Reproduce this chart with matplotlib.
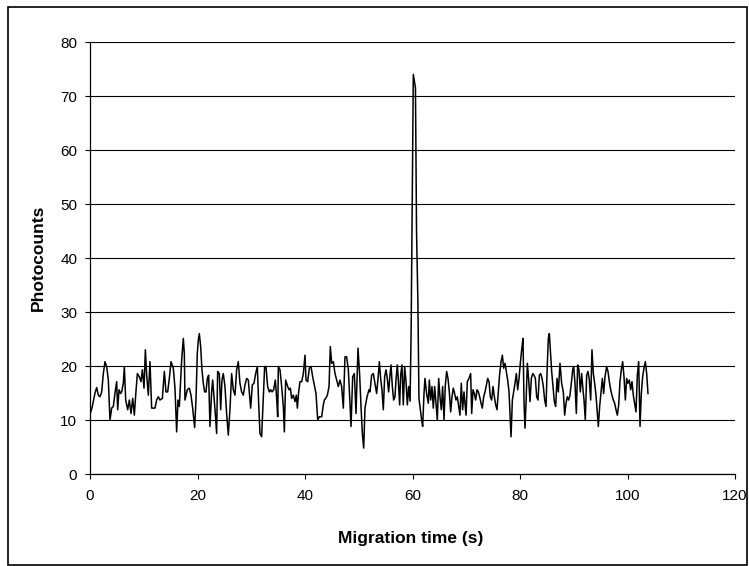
import matplotlib
matplotlib.use("Agg")
import matplotlib.pyplot as plt
from matplotlib.patches import Rectangle

plt.rcParams['font.family'] = ['Liberation Sans', 'DejaVu Sans']

time_s = [
    0.0, 0.43, 0.93, 1.24, 1.55, 1.86, 2.17, 2.48, 2.79, 3.1, 3.41, 3.72, 4.03, 4.34, 4.65, 4.96,
    5.15, 5.4, 5.7, 5.89, 6.2, 6.39, 6.64, 7.01, 7.32, 7.63, 7.94, 8.25, 8.5, 8.81, 9.18, 9.49,
    9.74, 10.05, 10.3, 10.54, 10.85, 11.16, 11.47, 12.09, 12.4, 12.71, 13.02, 13.46, 13.83, 14.14,
    14.45, 14.76, 15.07, 15.5, 15.81, 16.12, 16.37, 16.62,
    17.05, 17.36, 17.55, 17.67, 18.1, 18.48, 18.79, 19.1, 19.47, 19.72, 19.96, 20.15, 20.34, 20.59,
    20.83, 21.08, 21.33, 21.58, 21.83, 22.07, 22.32, 22.63, 22.82, 23.31, 23.56, 23.75, 24.06,
    24.31, 24.55, 24.8, 25.11, 25.42, 25.73, 26.04, 26.35, 26.66, 26.97, 27.28, 27.59, 27.9, 28.21,
    28.52, 28.83, 29.14, 29.45, 29.89, 30.2, 30.51, 30.82, 31.13, 31.38, 31.62, 31.93, 32.18,
    32.49, 32.74, 33.05, 33.36, 33.61, 33.86, 34.17, 34.48,
    34.73, 34.92, 35.04, 35.35, 35.66, 35.97, 36.16, 36.4, 36.78, 37.02, 37.27, 37.52, 37.83,
    38.14, 38.39, 38.58, 38.82, 39.07, 39.38, 39.69, 40.0, 40.19, 40.5, 40.81, 41.12, 41.43,
    41.74, 42.05, 42.36, 42.67, 43.1, 43.41, 43.6, 43.85, 44.16, 44.47, 44.71, 44.96, 45.27,
    45.58, 45.89, 46.2, 46.51, 46.82, 47.13, 47.44, 47.75, 48.06, 48.37, 48.56, 48.87, 49.18,
    49.49, 49.86, 50.17, 50.42, 50.67, 50.92, 51.16, 51.54, 51.91,
    52.09, 52.4, 52.71, 53.02, 53.33, 53.64, 53.83, 54.07, 54.32, 54.57, 54.82, 55.07, 55.31,
    55.56, 55.81, 56.0, 56.25, 56.49, 56.74, 56.93, 57.18, 57.36, 57.61, 57.8, 58.04, 58.29,
    58.54, 58.79, 59.04, 59.28, 59.55,
    59.75, 60.15, 60.55, 60.75, 61.0, 61.2,
    61.39, 61.7, 61.89, 62.14, 62.32, 62.63, 62.94, 63.13, 63.38, 63.62, 63.87, 64.12, 64.37,
    64.62, 64.87, 65.11, 65.36, 65.61, 65.86, 66.11, 66.35, 66.6, 66.85, 67.1, 67.35, 67.59,
    67.84, 68.09, 68.34, 68.59, 68.83, 69.08, 69.33, 69.58,
    69.96, 70.2, 70.51, 70.82, 71.01, 71.26, 71.51, 71.75, 72.0, 72.25, 72.5, 72.75, 72.99,
    73.24, 73.49, 73.74, 73.99, 74.24, 74.48, 74.73, 74.98, 75.23, 75.48, 75.72, 75.97, 76.22,
    76.47, 76.72, 76.96, 77.21, 77.46, 77.71, 77.96, 78.14, 78.33, 78.58, 78.82, 79.07, 79.32,
    79.57, 79.82, 80.06, 80.31, 80.56, 80.75, 80.93, 81.12, 81.37, 81.62, 81.86, 82.11, 82.36,
    82.61, 82.86, 83.1, 83.35, 83.6, 83.85, 84.1, 84.34, 84.59, 84.84, 85.09, 85.27, 85.46,
    85.65, 85.89, 86.14, 86.39, 86.64, 86.89, 87.13, 87.44,
    87.75, 88.06, 88.31, 88.56, 88.8, 89.05, 89.3, 89.55, 89.8, 89.98, 90.23, 90.48, 90.73,
    90.97, 91.22, 91.47, 91.72, 91.91, 92.15, 92.4, 92.65, 92.9, 93.15, 93.39, 93.64, 93.89,
    94.14, 94.39, 94.57, 94.82, 95.07, 95.32, 95.56, 95.81, 96.12, 96.37, 96.62, 96.87, 97.11,
    97.36, 97.61, 97.86, 98.11, 98.36, 98.6, 98.85, 99.1, 99.35, 99.6, 99.84, 100.09, 100.34,
    100.59, 100.84, 101.08, 101.33, 101.58, 101.83, 102.08, 102.33, 102.57, 102.82, 103.07,
    103.32, 103.57, 103.81,
]

photocounts = [
    11.0, 12.5, 15.0, 16.0, 14.6, 14.3, 15.2, 18.6, 20.8, 19.9, 17.4, 10.0, 12.2, 12.5, 15.0, 17.1,
    11.9, 15.6, 14.9, 15.2, 16.8, 19.9, 13.7, 11.9, 13.7, 11.2, 14.0, 10.9, 14.6, 18.6, 18.0, 17.1,
    19.3, 15.9, 23.0, 18.3, 14.6, 20.8, 12.2, 12.2, 13.7, 14.3, 13.7, 14.0, 19.0, 15.2,
    15.2, 17.7, 20.8, 19.6, 15.9, 7.8, 13.7, 12.5,
    21.0, 25.1, 22.3, 13.7, 15.6, 15.9, 14.6, 12.2, 8.6, 13.7, 22.3, 24.8, 26.0, 23.6,
    19.3, 16.8, 15.2, 15.2, 17.7, 18.3, 8.8, 15.2, 17.4, 11.2, 7.5, 19.0, 18.6,
    11.9, 17.4, 18.6, 16.2, 11.2, 7.2, 11.9, 18.6, 15.6, 14.6, 19.3, 20.8, 16.8, 15.2,
    14.6, 16.5, 17.7, 17.4, 12.2, 16.5, 16.8, 18.6, 19.9, 13.1, 7.5, 6.9, 12.5,
    19.9, 19.9, 16.2, 15.2, 15.6, 15.2, 15.6, 17.4,
    14.0, 10.6, 19.9, 19.3, 16.2, 12.5, 7.8, 17.4, 16.2, 15.6, 15.9, 14.0, 14.6,
    13.4, 14.6, 12.2, 15.2, 17.1, 17.1, 18.6, 22.0, 17.4, 17.1, 19.6, 19.9, 18.0,
    16.5, 14.9, 10.0, 10.6, 10.6, 12.8, 13.7, 14.0, 14.6, 16.2, 23.6, 20.5, 20.8,
    18.6, 17.4, 16.2, 17.4, 16.2, 12.2, 21.7, 21.7, 19.3, 13.1, 8.8, 18.0, 18.6,
    11.2, 23.3, 18.3, 12.5, 7.5, 4.8, 12.2, 14.3, 15.6,
    15.2, 18.3, 18.6, 16.8, 14.9, 18.3, 20.8, 17.7, 15.6, 11.9, 18.0, 19.3, 17.7,
    15.2, 18.3, 20.2, 16.2, 13.7, 14.3, 17.4, 20.2, 17.4, 12.8, 18.3, 20.2, 12.8,
    19.9, 17.1, 12.8, 16.2, 13.5,
    27.0, 74.0, 71.5, 45.0, 32.0, 14.0,
    12.5, 10.0, 8.8, 14.9, 17.7, 14.9, 13.1, 17.4, 13.7, 16.2, 12.2, 16.2, 13.1,
    10.0, 17.7, 14.3, 11.9, 16.2, 10.0, 16.5, 19.0, 17.7, 15.2, 11.5, 14.3, 15.9,
    14.9, 13.7, 14.3, 12.5, 10.9, 16.8, 11.9, 15.2,
    10.9, 17.1, 17.7, 18.6, 11.2, 15.6, 14.9, 13.7, 15.6, 15.2, 14.3, 13.1, 12.2,
    14.3, 15.2, 16.5, 17.7, 17.1, 14.3, 13.7, 16.2, 14.3, 12.8, 11.9, 15.2, 18.6,
    20.8, 22.0, 19.6, 20.5, 19.0, 17.4, 15.2, 11.2, 6.9, 13.7, 15.2, 16.8, 18.6,
    15.6, 17.7, 20.5, 23.0, 25.1, 13.1, 8.5, 13.1, 20.5, 17.4, 13.4, 17.7, 18.6,
    18.3, 17.7, 14.3, 13.7, 18.3, 18.6, 17.7, 16.2, 13.7, 12.5, 20.5, 25.1, 26.0,
    23.0, 19.0, 16.2, 13.4, 12.5, 17.7, 15.2, 20.5,
    16.8, 15.2, 10.9, 13.1, 14.3, 13.7, 14.6, 16.8, 19.3, 19.9, 16.8, 11.2, 20.2,
    19.3, 15.2, 18.6, 15.6, 13.7, 10.0, 18.3, 19.0, 17.4, 13.7, 23.0, 18.6, 16.8,
    14.6, 11.2, 8.8, 12.5, 15.2, 17.7, 14.9, 18.0, 19.9, 19.0, 17.1, 15.6, 14.6,
    13.7, 13.1, 11.9, 10.9, 12.8, 17.1, 19.3, 20.8, 18.0, 13.7, 17.7, 16.8, 17.4,
    15.6, 17.1, 14.6, 13.1, 11.5, 18.3, 20.8, 8.8, 14.9, 18.0, 19.6,
    20.8, 18.6, 14.9,
]

x_ticks = [0, 20, 40, 60, 80, 100, 120]
y_ticks = [0, 10, 20, 30, 40, 50, 60, 70, 80]

W, H = 749, 566
fig = plt.figure(figsize=(W / 100, H / 100), dpi=100)
fig.patch.set_facecolor('white')

ax = fig.add_axes([90 / W, 1 - 474 / H, (735 - 90) / W, (474 - 42) / H])
ax.plot(time_s, photocounts, color='black', linewidth=1.1)

ax.set_xlim(0, 120)
ax.set_ylim(0, 80)
ax.set_xticks(x_ticks)
ax.set_yticks(y_ticks)
ax.yaxis.grid(True, color='black', linewidth=0.8)
ax.set_axisbelow(True)
for s in ['top', 'right']:
    ax.spines[s].set_visible(False)
for s in ['left', 'bottom']:
    ax.spines[s].set_color('black')
    ax.spines[s].set_linewidth(0.9)
ax.tick_params(axis='both', direction='out', length=3.6, width=0.8, colors='black',
               labelsize=11)
ax.tick_params(axis='x', pad=7)
ax.tick_params(axis='y', pad=5.5)

ax.set_xlabel('Migration time (s)', fontsize=12.5, fontweight='bold')
ax.set_ylabel('Photocounts', fontsize=12.5, fontweight='bold')
ax.xaxis.set_label_coords(0.497, -0.131)
ax.yaxis.set_label_coords(-0.069, 0.5)

fig.patches.append(Rectangle((8 / W, 1 / H), (747 - 8) / W, (558) / H,
                             transform=fig.transFigure, fill=False,
                             edgecolor='black', linewidth=1.2))

fig.savefig('out.png', dpi=100)
